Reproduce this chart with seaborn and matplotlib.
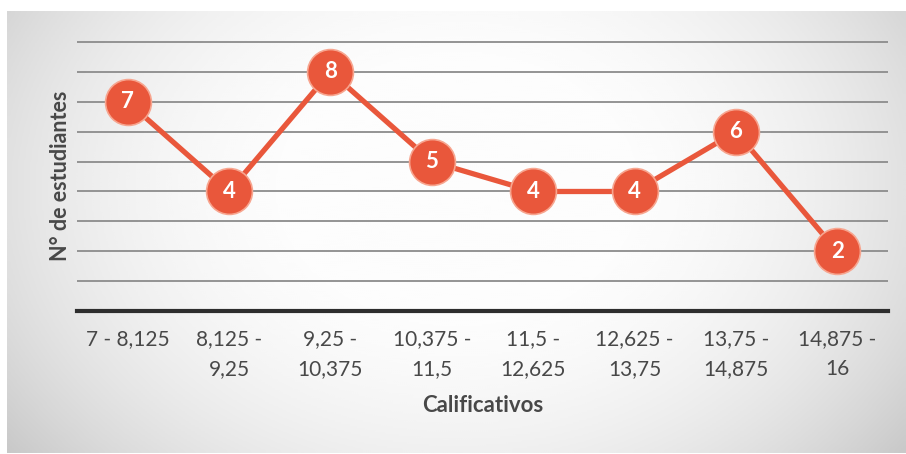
import numpy as np
import pandas as pd
import matplotlib
matplotlib.use("Agg")
import matplotlib.pyplot as plt
import seaborn as sns

# data
categorias = ["7 - 8,125", "8,125 -\n9,25", "9,25 -\n10,375", "10,375 -\n11,5",
              "11,5 -\n12,625", "12,625 -\n13,75", "13,75 -\n14,875", "14,875 -\n16"]
n_estudiantes = [7, 4, 8, 5, 4, 4, 6, 2]

df = pd.DataFrame({"cal": categorias, "n": n_estudiantes})

sns.set_style("white")
plt.rcParams['font.family'] = ['Lato', 'DejaVu Sans']

naranja = "#E9573B"
gris_txt = "#484848"

fig = plt.figure(figsize=(9.06, 4.54), dpi=100)

# background panel with soft radial gradient
bg = fig.add_axes([7/906, 1/454, 899/906, 442/454])
h, w = 220, 450
yy, xx = np.mgrid[0:h, 0:w]
dx = (xx - w*0.5) / (w*0.52)
dy = (yy - h*0.4) / (h*0.8)
r = np.sqrt(dx**2 + dy**2)
shade = np.clip(1.0 - 0.13*r**2.6, 0.76, 0.99)
bg.imshow(shade, cmap="gray", vmin=0, vmax=1, aspect="auto", interpolation="bicubic")
bg.axis("off")

ax = fig.add_axes([77/906, (454-311)/454, (888-77)/906, (311-40)/454])
ax.patch.set_alpha(0)

sns.lineplot(data=df, x="cal", y="n", sort=False, ax=ax, color=naranja,
             linewidth=3.8, marker="o", markersize=33,
             markerfacecolor=naranja, markeredgecolor="#f7a58f",
             markeredgewidth=1.2, zorder=5)

for i, v in enumerate(n_estudiantes):
    ax.text(i, v, str(v), ha="center", va="center", color="white",
            fontsize=16, fontweight="bold", zorder=6)

ax.set_ylim(0, 9.07)
ax.set_xlim(-0.5, len(categorias) - 0.5)
ax.set_yticks(range(1, 10))
ax.set_yticklabels([])
ax.tick_params(axis="y", length=0)
ax.grid(axis="y", color="#8c8c8c", linewidth=1.3)
ax.set_axisbelow(True)

for s in ["top", "right", "left"]:
    ax.spines[s].set_visible(False)
ax.spines["bottom"].set_color("#2e2e2e")
ax.spines["bottom"].set_linewidth(3)

ax.tick_params(axis="x", length=0, pad=13, labelsize=15, labelcolor=gris_txt)
for lab in ax.get_xticklabels():
    lab.set_linespacing(1.65)

ax.set_xlabel("Calificativos", fontsize=16, fontweight="bold", color=gris_txt, labelpad=11)
ax.set_ylabel("N° de estudiantes", fontsize=15.5, fontweight="bold", color=gris_txt, labelpad=1)

fig.savefig("out.png", dpi=100)
